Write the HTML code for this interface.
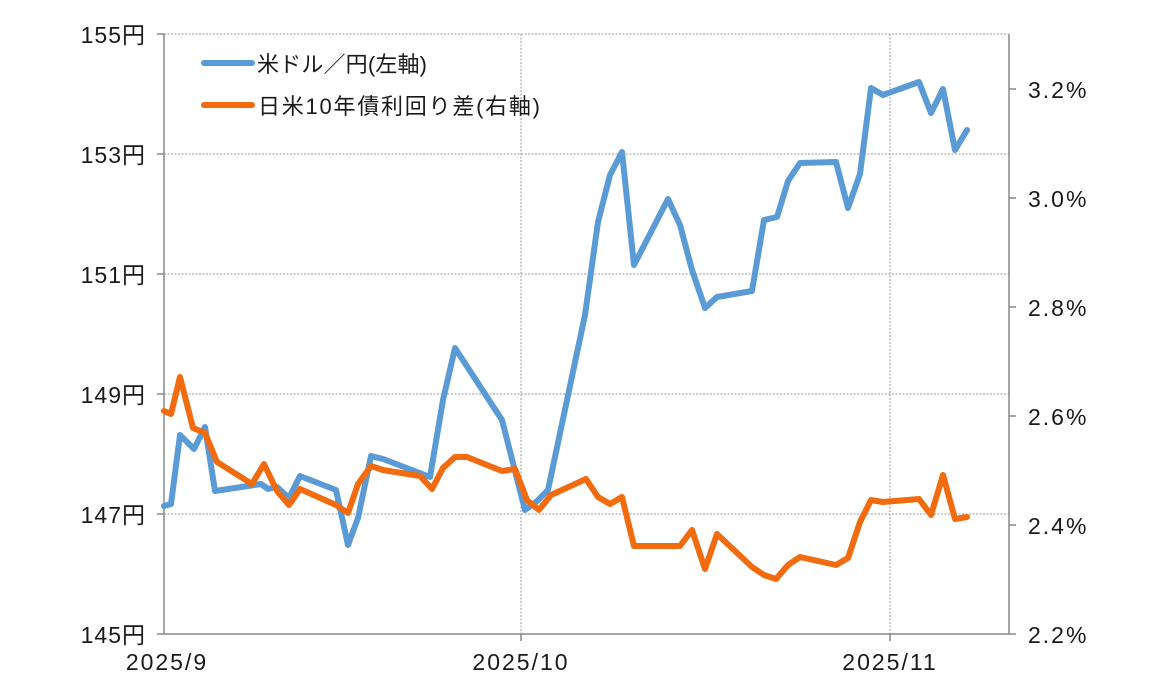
<!DOCTYPE html>
<html><head><meta charset="utf-8"><style>
body{margin:0;background:#fff;}
text{font-family:"Liberation Sans","Noto Sans CJK JP",sans-serif;fill:#1a1a1a;}
</style></head><body>
<svg width="1173" height="678" xmlns="http://www.w3.org/2000/svg">
<g stroke="#999" stroke-width="1" stroke-dasharray="2,1.5">
<line x1="164" y1="34" x2="1009" y2="34"/>
<line x1="164" y1="154" x2="1009" y2="154"/>
<line x1="164" y1="274" x2="1009" y2="274"/>
<line x1="164" y1="394" x2="1009" y2="394"/>
<line x1="164" y1="514" x2="1009" y2="514"/>
<line x1="521" y1="34" x2="521" y2="634"/>
<line x1="890" y1="34" x2="890" y2="634"/>
</g>
<g stroke="#888" stroke-width="1.5">
<line x1="164" y1="34" x2="164" y2="634"/>
<line x1="164" y1="634" x2="1009" y2="634"/>
<line x1="1009" y1="34" x2="1009" y2="634"/>
<line x1="157" y1="34" x2="164" y2="34"/><line x1="157" y1="154" x2="164" y2="154"/><line x1="157" y1="274" x2="164" y2="274"/><line x1="157" y1="394" x2="164" y2="394"/><line x1="157" y1="514" x2="164" y2="514"/><line x1="157" y1="634" x2="164" y2="634"/>
<line x1="1009" y1="89" x2="1016" y2="89"/><line x1="1009" y1="198" x2="1016" y2="198"/><line x1="1009" y1="307" x2="1016" y2="307"/><line x1="1009" y1="416" x2="1016" y2="416"/><line x1="1009" y1="525" x2="1016" y2="525"/><line x1="1009" y1="634" x2="1016" y2="634"/>
<line x1="521" y1="634" x2="521" y2="641"/><line x1="890" y1="634" x2="890" y2="641"/>
</g>
<g font-size="23" text-anchor="end" letter-spacing="1">
<text x="146" y="43">155円</text><text x="146" y="163">153円</text><text x="146" y="283">151円</text><text x="146" y="403">149円</text><text x="146" y="523">147円</text><text x="146" y="643">145円</text>
</g>
<g font-size="23" letter-spacing="2">
<text x="1028" y="98">3.2%</text><text x="1028" y="207">3.0%</text><text x="1028" y="316">2.8%</text><text x="1028" y="425">2.6%</text><text x="1028" y="534">2.4%</text><text x="1028" y="643">2.2%</text>
</g>
<g font-size="23" text-anchor="middle" letter-spacing="2">
<text x="167" y="670">2025/9</text><text x="521" y="670">2025/10</text><text x="890" y="670">2025/11</text>
</g>
<polyline fill="none" stroke="#5b9bd5" stroke-width="6" stroke-linejoin="round" stroke-linecap="round" points="164,506 171,504 180,435 194,449 205,427 215,491 261,484 268,489 277,487 289,498 300,476 336,490 348,545 358,518 371,456 383,459 430,477 443,400 455,348 502,420 525,510 536,502 548,490 585,315 598,222 610,175 622,152 634,265 668,199 680,225 692,270 705,308 717,297 752,291 764,220 777,217 788,181 800,163 836,162 848,208 860,174 871,88 883,95 919,82 931,113 943,89 955,150 967,130"/>
<polyline fill="none" stroke="#f26b0f" stroke-width="6" stroke-linejoin="round" stroke-linecap="round" points="164,411 171,414 180,377 193,428 205,433 217,462 252,484 264,464 277,491 289,505 300,489 336,505 348,513 358,484 371,466 383,470 420,476 432,489 443,468 455,457 467,457 502,471 515,469 527,500 539,510 551,495 586,479 598,497 610,504 622,497 634,546 680,546 692,530 705,569 717,534 752,567 764,575 776,579 788,565 800,557 836,565 848,558 860,522 871,500 883,502 919,499 931,515 943,475 955,519 967,517"/>
<line x1="204" y1="63" x2="252" y2="63" stroke="#5b9bd5" stroke-width="6" stroke-linecap="round"/>
<line x1="204" y1="105" x2="252" y2="105" stroke="#f26b0f" stroke-width="6" stroke-linecap="round"/>
<text x="257" y="72" font-size="22" textLength="170" lengthAdjust="spacing">米ドル／円(左軸)</text>
<text x="258" y="114" font-size="22" textLength="282" lengthAdjust="spacing">日米10年債利回り差(右軸)</text>
</svg>
</body></html>
